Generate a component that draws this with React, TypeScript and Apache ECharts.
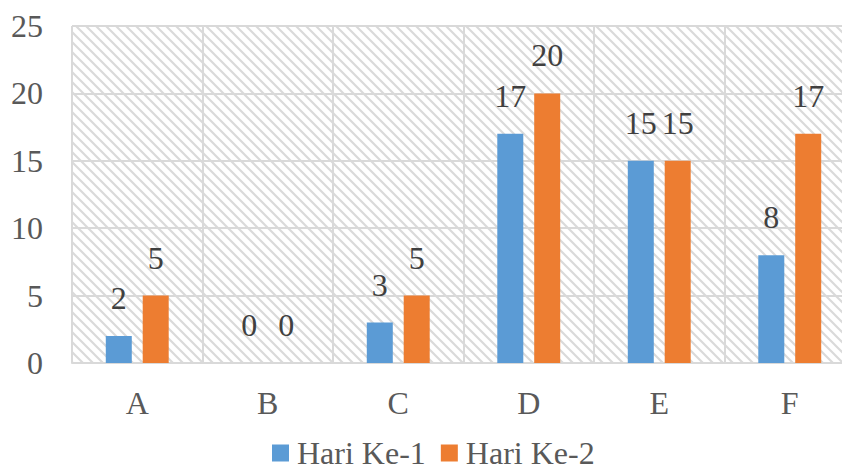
import React, { useEffect, useRef } from "react";
import * as echarts from "echarts";

const categories = ["A", "B", "C", "D", "E", "F"];
const seriesNames = ["Hari Ke-1", "Hari Ke-2"];
const hariKe1 = [2, 0, 3, 17, 15, 8];
const hariKe2 = [5, 0, 5, 20, 15, 17];
const yTicks = { min: 0, max: 25, interval: 5 };

const FONT = "Liberation Serif";
const FS = 32;

function makeHatch(): HTMLCanvasElement {
  const s = 10;
  const c = document.createElement("canvas");
  c.width = s;
  c.height = s;
  const ctx = c.getContext("2d")!;
  ctx.fillStyle = "#ffffff";
  ctx.fillRect(0, 0, s, s);
  ctx.strokeStyle = "#dadada";
  ctx.lineWidth = 2.2;
  ctx.beginPath();
  ctx.moveTo(-s, -s);
  ctx.lineTo(2 * s, 2 * s);
  ctx.moveTo(-2 * s, -s);
  ctx.lineTo(s, 2 * s);
  ctx.moveTo(0, -s);
  ctx.lineTo(3 * s, 2 * s);
  ctx.stroke();
  return c;
}

export default function App() {
  const ref = useRef<HTMLDivElement>(null);
  useEffect(() => {
    document.body.style.margin = "0";
    const chart = echarts.init(ref.current!, null, { renderer: "svg" });
    const label = {
      show: true,
      position: "top" as const,
      distance: 22,
      fontFamily: FONT,
      fontSize: FS,
      color: "#404040",
    };
    chart.setOption({
      animation: false,
      grid: {
        left: 72,
        right: 0,
        top: 26,
        bottom: 101,
        show: true,
        borderWidth: 0,
        backgroundColor: { image: makeHatch(), repeat: "repeat" },
      },
      legend: {
        data: seriesNames,
        left: 272,
        top: 437,
        padding: 0,
        itemWidth: 17,
        itemHeight: 17,
        itemGap: 15,
        icon: "rect",
        textStyle: {
          fontFamily: FONT,
          fontSize: FS,
          lineHeight: 24,
          color: "#595959",
          padding: [0, 0, 0, 3],
        },
      },
      xAxis: {
        type: "category",
        data: categories,
        axisLine: { show: true, lineStyle: { color: "#d9d9d9", width: 2 } },
        axisTick: { show: false },
        splitLine: { show: true, lineStyle: { color: "#d9d9d9", width: 2 } },
        axisLabel: {
          fontFamily: FONT,
          fontSize: FS,
          color: "#595959",
          margin: 24,
        },
      },
      yAxis: {
        type: "value",
        min: yTicks.min,
        max: yTicks.max,
        interval: yTicks.interval,
        axisLine: { show: false },
        axisTick: { show: false },
        splitLine: { show: true, lineStyle: { color: "#d9d9d9", width: 2 } },
        axisLabel: {
          fontFamily: FONT,
          fontSize: FS,
          color: "#595959",
          margin: 29,
        },
      },
      series: [
        {
          name: seriesNames[0],
          type: "bar",
          data: hariKe1,
          barWidth: 26,
          barGap: "42%",
          itemStyle: { color: "#5b9bd5" },
          label,
        },
        {
          name: seriesNames[1],
          type: "bar",
          data: hariKe2,
          barWidth: 26,
          barGap: "42%",
          itemStyle: { color: "#ed7d31" },
          label,
        },
      ],
    });
    return () => chart.dispose();
  }, []);
  return (
    <div style={{ width: 842, height: 464, overflow: "hidden", position: "relative" }}>
      <div ref={ref} style={{ width: 855, height: 464 }} />
    </div>
  );
}
